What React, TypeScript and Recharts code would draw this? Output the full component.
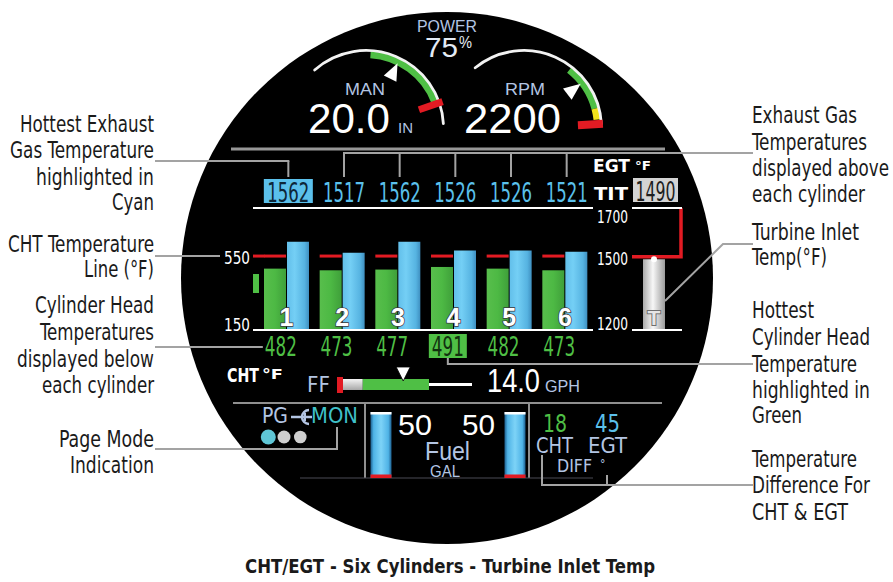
import React from 'react';
import { ComposedChart, Bar, Line, XAxis, YAxis, LabelList } from 'recharts';

// ---------------- data ----------------
const cylinders = ['1', '2', '3', '4', '5', '6'];
const egtValues = [1562, 1517, 1562, 1526, 1526, 1521];
const chtValues = [482, 473, 477, 491, 482, 473];
const chtTicks = [150, 550];
const egtTicks = [1200, 1500, 1700];
const chtDomain = [150, 810];
const egtDomain = [1200, 1700];
const chtRedline = 550;
const titNames = ['TIT'];
const titValues = [1490];
const titRedline = 1500;
const fuelTanks = ['L', 'R'];
const fuelGallons = [50, 50];
const fuelDomain = [0, 50];
const manValue = 20.0;
const rpmValue = 2200;
const powerPct = 75;
const ffValue = 14.0;
const chtDiff = 18;
const egtDiff = 45;

const manRange = { min: 5, max: 33.5, greenFrom: 15, greenTo: 29.5, red: 30 };
const rpmRange = { min: 900, max: 2700, greenFrom: 2000, greenTo: 2525, yellowTo: 2650, red: 2700 };
const ffRange = { max: 30, greenFrom: 4.6, greenTo: 20 };

const leftNotes = [
  ['Hottest Exhaust', 132, 134], ['Gas Temperature', 158, 144], ['highlighted in', 185, 118], ['Cyan', 210, 42],
  ['CHT Temperature', 252, 146], ['Line (°F)', 277, 70],
  ['Cylinder Head', 313, 119], ['Temperatures', 340, 114], ['displayed below', 367, 137], ['each cylinder', 393, 112],
  ['Page Mode', 447, 95], ['Indication', 473, 84],
];
const rightNotes = [
  ['Exhaust Gas', 123, 105], ['Temperatures', 150, 115], ['displayed above', 176, 137], ['each cylinder', 202, 113],
  ['Turbine Inlet', 240, 107], ['Temp(°F)', 265, 75],
  ['Hottest', 318, 62], ['Cylinder Head', 345, 118], ['Temperature', 372, 105], ['highlighted in', 398, 118], ['Green', 423, 50],
  ['Temperature', 467, 105], ['Difference For', 493, 118], ['CHT & EGT', 520, 96],
];
const title = 'CHT/EGT - Six Cylinders - Turbine Inlet Temp';

// ---------------- style ----------------
const W = 893;
const H = 582;
const PLOT_TOP = 208;
const PLOT_BOTTOM = 330;
const NARROW = "'Liberation Sans Narrow', 'DejaVu Sans Condensed', 'Liberation Sans', sans-serif";
const SANS = "'Liberation Sans', 'DejaVu Sans', sans-serif";
const LB = '#b3c5e3';
const CYAN = '#5bc0eb';
const GREEN = '#4fbf45';
const RED = '#e21b23';
const LEAD = '#a3a3a3';

const cylData = cylinders.map((c, i) => ({ cyl: c, cht: chtValues[i], egt: egtValues[i] }));
const titData = titNames.map((n, i) => ({ name: n, tit: titValues[i] }));
const fuelData = fuelTanks.map((t, i) => ({ tank: t, gal: fuelGallons[i] }));
const hotEgt = egtValues.indexOf(Math.max(...egtValues));
const hotCht = chtValues.indexOf(Math.max(...chtValues));

const yE = (v: number) =>
  PLOT_BOTTOM - ((v - egtDomain[0]) / (egtDomain[1] - egtDomain[0])) * (PLOT_BOTTOM - PLOT_TOP);

const Txt = ({ x, y, size, fill, anchor = 'start', w, weight = 400, family = NARROW, children, stroke, sw }: any) => (
  <text
    x={x}
    y={y}
    fontSize={size}
    fill={fill}
    textAnchor={anchor}
    fontFamily={family}
    fontWeight={weight}
    textLength={w}
    lengthAdjust={w ? 'spacingAndGlyphs' : undefined}
    stroke={stroke}
    strokeWidth={sw}
    paintOrder={stroke ? 'stroke' : undefined}
  >
    {children}
  </text>
);

// ---------------- gauge helpers ----------------
const pt = (cx: number, cy: number, r: number, deg: number) => [
  cx + r * Math.cos((deg * Math.PI) / 180),
  cy - r * Math.sin((deg * Math.PI) / 180),
];
const arcD = (cx: number, cy: number, r: number, a0: number, a1: number) => {
  const [x0, y0] = pt(cx, cy, r, a0);
  const [x1, y1] = pt(cx, cy, r, a1);
  const large = Math.abs(a0 - a1) > 180 ? 1 : 0;
  const sweep = a0 > a1 ? 1 : 0;
  return `M${x0} ${y0} A${r} ${r} 0 ${large} ${sweep} ${x1} ${y1}`;
};
const pointer = (cx: number, cy: number, deg: number) => {
  const [tx, ty] = pt(cx, cy, 72, deg);
  const [bx, by] = pt(cx, cy, 55, deg);
  const px = Math.sin((deg * Math.PI) / 180) * 7;
  const py = Math.cos((deg * Math.PI) / 180) * 7;
  return `M${tx} ${ty} L${bx + px} ${by + py} L${bx - px} ${by - py} Z`;
};
const manAngle = (v: number) => 64 - (v - manValue) * 4.5;
const rpmAngle = (v: number) => 38 - (v - rpmValue) * 0.07;
const ffX = (v: number) => 343 + (v / ffRange.max) * 129;

const Gauges = () => {
  const mc = [366, 128];
  const rc = [524, 128];
  return (
    <g>
      {/* MAN */}
      <path d={arcD(mc[0], mc[1], 73.5, manAngle(manRange.greenFrom), manAngle(manRange.greenTo))} stroke={GREEN} strokeWidth={7} fill="none" />
      <path d={arcD(mc[0], mc[1], 77.5, manAngle(manRange.min), manAngle(manRange.max))} stroke="#f2f2f2" strokeWidth={2.8} fill="none" strokeLinecap="round" />
      {(() => {
        const [x0, y0] = pt(mc[0], mc[1], 56, manAngle(manRange.red));
        const [x1, y1] = pt(mc[0], mc[1], 81, manAngle(manRange.red));
        return <line x1={x0} y1={y0} x2={x1} y2={y1} stroke={RED} strokeWidth={7} />;
      })()}
      <path d={pointer(mc[0], mc[1], manAngle(manValue))} fill="#fff" />
      <Txt x={365} y={95} size={17} fill={LB} anchor="middle" w={40} family={SANS}>MAN</Txt>
      <Txt x={308} y={133} size={42} fill="#fff" w={82} family={SANS}>{manValue.toFixed(1)}</Txt>
      <Txt x={398} y={133} size={14} fill={LB} w={15} family={SANS}>IN</Txt>

      {/* RPM */}
      <path d={arcD(rc[0], rc[1], 73.5, rpmAngle(rpmRange.greenFrom), rpmAngle(rpmRange.greenTo))} stroke={GREEN} strokeWidth={7} fill="none" />
      <path d={arcD(rc[0], rc[1], 73.5, rpmAngle(rpmRange.greenTo), rpmAngle(rpmRange.yellowTo))} stroke="#f2e21b" strokeWidth={7} fill="none" />
      <path d={arcD(rc[0], rc[1], 77.5, rpmAngle(rpmRange.min), rpmAngle(rpmRange.max))} stroke="#f2f2f2" strokeWidth={2.8} fill="none" strokeLinecap="round" />
      {(() => {
        const [x0, y0] = pt(rc[0], rc[1], 54, rpmAngle(rpmRange.red));
        const [x1, y1] = pt(rc[0], rc[1], 79, rpmAngle(rpmRange.red));
        return <line x1={x0} y1={y0} x2={x1} y2={y1} stroke={RED} strokeWidth={8} />;
      })()}
      <path d={pointer(rc[0], rc[1], rpmAngle(rpmValue))} fill="#fff" />
      <Txt x={525} y={95} size={17} fill={LB} anchor="middle" w={40} family={SANS}>RPM</Txt>
      <Txt x={464} y={133} size={42} fill="#fff" w={97} family={SANS}>{rpmValue}</Txt>

      {/* POWER */}
      <Txt x={447} y={32} size={16} fill={LB} anchor="middle" w={60} family={SANS}>POWER</Txt>
      <Txt x={425} y={57} size={28} fill="#e4ebf5" w={33} family={SANS}>{powerPct}</Txt>
      <Txt x={459} y={48} size={16} fill="#e4ebf5" w={13} family={SANS}>%</Txt>
    </g>
  );
};

const Background = () => (
  <g>
    <circle cx={447} cy={278} r={266} fill="#000" />
    <line x1={231} x2={665} y1={149} y2={149} stroke="#979797" strokeWidth={3} />
    <Gauges />

    {/* EGT / TIT header */}
    <Txt x={593} y={172} size={17} fill="#fff" weight={700} w={37}>EGT</Txt>
    <Txt x={635} y={170} size={13} fill="#fff" weight={700} w={16}>°F</Txt>
    <Txt x={594} y={200} size={17} fill="#fff" weight={700} w={34}>TIT</Txt>
    <rect x={633} y={178} width={45} height={24} fill="#d3d3d3" />
    <Txt x={655.5} y={201} size={27} fill="#1e1e1e" anchor="middle" w={40}>{titValues[0]}</Txt>

    {/* TIT red limit bracket */}
    <polyline
      points={`632,${yE(titRedline)} 681,${yE(titRedline)} 681,${yE(egtDomain[1])}`}
      fill="none"
      stroke={RED}
      strokeWidth={3.5}
    />

    {/* CHT trend indicator */}
    <rect x={253} y={274} width={6} height={19} fill={GREEN} />

    {/* CHT °F */}
    <Txt x={227} y={382} size={19} fill="#fff" weight={700} w={32}>CHT</Txt>
    <Txt x={262} y={379} size={14} fill="#fff" weight={700} w={21}>°F</Txt>

    {/* Fuel flow */}
    <Txt x={307} y={392} size={21} fill={LB} w={23}>FF</Txt>
    <rect x={337} y={377} width={6} height={16} fill={RED} />
    <rect x={343} y={379} width={ffX(ffRange.greenFrom) - 343} height={11} fill="url(#gFF)" />
    <rect x={ffX(ffRange.greenFrom)} y={379} width={ffX(ffRange.greenTo) - ffX(ffRange.greenFrom)} height={11} fill={GREEN} />
    <rect x={ffX(ffRange.greenTo)} y={383} width={ffX(ffRange.max) - ffX(ffRange.greenTo)} height={3} fill="#fff" />
    <path
      d={`M${ffX(ffValue) - 7} 367 L${ffX(ffValue) + 7} 367 L${ffX(ffValue)} 381 Z`}
      fill="#fff"
      stroke="#000"
      strokeWidth={0.8}
    />
    <Txt x={487} y={392} size={33} fill="#fff" w={53} family={SANS}>{ffValue.toFixed(1)}</Txt>
    <Txt x={545} y={392} size={17} fill={LB} w={35} family={SANS}>GPH</Txt>

    {/* lower section frame */}
    <line x1={233} x2={662} y1={403} y2={403} stroke="#8f8f8f" strokeWidth={2} />
    <line x1={365} x2={365} y1={403} y2={478} stroke="#8f8f8f" strokeWidth={2} />
    <line x1={529} x2={529} y1={403} y2={478} stroke="#8f8f8f" strokeWidth={2} />
    <line x1={300} x2={593} y1={478} y2={478} stroke="#4a4a55" strokeWidth={1} />

    {/* page mode */}
    <Txt x={262} y={423} size={21} fill={LB} w={26}>PG</Txt>
    <path d="M309 410 A7 7 0 0 0 309 424" fill="none" stroke={LB} strokeWidth={2.5} />
    <line x1={291} x2={312} y1={417} y2={417} stroke={LB} strokeWidth={2.5} />
    <line x1={305} x2={305} y1={413} y2={421} stroke={LB} strokeWidth={2} />
    <Txt x={311} y={423} size={21} fill="#3fc1c9" w={47}>MON</Txt>
    <circle cx={268.3} cy={437} r={7.5} fill="#5fc6d6" />
    <circle cx={284} cy={437} r={6.5} fill="#cfcfcf" />
    <circle cx={300.3} cy={437} r={6.3} fill="#cfcfcf" />

    {/* fuel */}
    <Txt x={398} y={435} size={30} fill="#fff" w={34} family={SANS}>{fuelGallons[0]}</Txt>
    <Txt x={462} y={435} size={30} fill="#fff" w={33} family={SANS}>{fuelGallons[1]}</Txt>
    <Txt x={447.5} y={460} size={25} fill={LB} anchor="middle" w={45} family={SANS}>Fuel</Txt>
    <Txt x={445} y={477} size={16} fill={LB} anchor="middle" w={30} family={SANS}>GAL</Txt>

    {/* diff */}
    <Txt x={543} y={432} size={24} fill={GREEN} w={24}>{chtDiff}</Txt>
    <Txt x={595} y={432} size={24} fill={CYAN} w={25}>{egtDiff}</Txt>
    <Txt x={536} y={453} size={21} fill={LB} w={37}>CHT</Txt>
    <Txt x={588} y={453} size={21} fill={LB} w={39}>EGT</Txt>
    <Txt x={557} y={472} size={17} fill={LB} w={35}>DIFF</Txt>
    <Txt x={600} y={468} size={12} fill={LB}>°</Txt>

    {/* leader lines */}
    <polyline points="155,449 337,449 337,427" fill="none" stroke={LEAD} strokeWidth={2} />
    <polyline points="753,244 723,244 665,301" fill="none" stroke={LEAD} strokeWidth={2} />
    <polyline points="542,455 542,485 753,485" fill="none" stroke={LEAD} strokeWidth={2} />
    <line x1={607} x2={607} y1={475} y2={485} stroke={LEAD} strokeWidth={2} />

    {/* annotations */}
    {leftNotes.map(([t, y, w]) => (
      <Txt key={`l${t}${y}`} x={154} y={y} size={23} fill="#1a1a1a" anchor="end" w={w}>{t}</Txt>
    ))}
    {rightNotes.map(([t, y, w]) => (
      <Txt key={`r${t}${y}`} x={752} y={y} size={23} fill="#1a1a1a" w={w}>{t}</Txt>
    ))}
    <Txt x={450} y={573} size={20} fill="#1a1a1a" anchor="middle" weight={700} w={410}>{title}</Txt>
  </g>
);

const Defs = () => (
  <defs>
    <linearGradient id="gGreen" x1="0" y1="0" x2="1" y2="0">
      <stop offset="0" stopColor="#58be4c" />
      <stop offset="0.5" stopColor="#4db944" />
      <stop offset="1" stopColor="#3f9f3a" />
    </linearGradient>
    <linearGradient id="gBlue" x1="0" y1="0" x2="1" y2="0">
      <stop offset="0" stopColor="#62bfea" />
      <stop offset="0.35" stopColor="#74cff5" />
      <stop offset="0.8" stopColor="#56b3e1" />
      <stop offset="1" stopColor="#3f8fc0" />
    </linearGradient>
    <linearGradient id="gTit" x1="0" y1="0" x2="1" y2="0">
      <stop offset="0" stopColor="#a9a9a9" />
      <stop offset="0.45" stopColor="#f7f7f7" />
      <stop offset="1" stopColor="#9b9b9b" />
    </linearGradient>
    <linearGradient id="gFuel" x1="0" y1="0" x2="1" y2="0">
      <stop offset="0" stopColor="#1d5f8f" />
      <stop offset="0.15" stopColor="#4fb3e6" />
      <stop offset="0.5" stopColor="#7dd3f7" />
      <stop offset="0.85" stopColor="#4fb3e6" />
      <stop offset="1" stopColor="#1d5f8f" />
    </linearGradient>
    <linearGradient id="gFF" x1="0" y1="0" x2="0" y2="1">
      <stop offset="0" stopColor="#f4f4f4" />
      <stop offset="1" stopColor="#a8a8a8" />
    </linearGradient>
  </defs>
);

// ---------------- chart parts ----------------
const EgtTopTick = (props: any) => {
  const { x, y, index } = props;
  const cx = Number(x) + 1.5;
  const yy = Number(y);
  const hot = index === hotEgt;
  return (
    <g>
      <line x1={cx} x2={cx} y1={index === 0 ? yy - 47 : yy - 55} y2={yy - 31} stroke={LEAD} strokeWidth={2} />
      {index === 0 && <line x1={155} x2={cx + 1} y1={yy - 47} y2={yy - 47} stroke={LEAD} strokeWidth={2} />}
      {index === 1 && <line x1={cx - 1} x2={753} y1={yy - 55} y2={yy - 55} stroke={LEAD} strokeWidth={2} />}
      {hot && <rect x={cx - 24.5} y={yy - 29} width={49} height={24} fill={CYAN} />}
      <Txt x={cx} y={yy - 6} size={27} fill={hot ? '#0d2638' : CYAN} anchor="middle" w={42}>
        {egtValues[index]}
      </Txt>
    </g>
  );
};

const ChtBottomTick = (props: any) => {
  const { x, y, index } = props;
  const cx = Number(x) - 6;
  const yy = Number(y);
  const hot = index === hotCht;
  return (
    <g>
      {index === 0 && <line x1={155} x2={cx - 18} y1={yy + 17} y2={yy + 17} stroke={LEAD} strokeWidth={2} />}
      {hot && (
        <g>
          <rect x={cx - 19} y={yy + 4} width={38} height={24} fill={GREEN} />
          <polyline points={`${cx},${yy + 28} ${cx},${yy + 34} 753,${yy + 34}`} fill="none" stroke={LEAD} strokeWidth={2} />
        </g>
      )}
      <Txt x={cx} y={yy + 26} size={27} fill={hot ? '#11300e' : GREEN} anchor="middle" w={32}>
        {chtValues[index]}
      </Txt>
    </g>
  );
};

const ChtAxisTick = (props: any) => {
  const { x, y, payload } = props;
  const v = payload.value;
  const xx = Number(x);
  const yy = Number(y);
  const base = v === chtDomain[0] ? yy + 1 : yy + 8;
  return (
    <g>
      {v === chtRedline && (
        <g>
          <line x1={155} x2={xx - 33} y1={yy} y2={yy} stroke={LEAD} strokeWidth={2} />
          <line x1={xx} x2={xx + 11.5} y1={yy} y2={yy} stroke={RED} strokeWidth={3} />
        </g>
      )}
      <Txt x={xx - 3} y={base} size={18} fill="#fff" anchor="end" w={26}>{v}</Txt>
    </g>
  );
};

const EgtAxisTick = (props: any) => {
  const { x, y, payload } = props;
  const v = payload.value;
  const yy = Number(y);
  const base = v === egtDomain[1] ? yy + 15 : v === egtDomain[0] ? yy : yy + 8;
  return <Txt x={Number(x) + 4} y={base} size={18} fill="#fff" w={31}>{v}</Txt>;
};

const ChtBar = (props: any) => {
  const { x, y, width, height, payload } = props;
  const bottom = y + height;
  const ppu = height / (payload.cht - chtDomain[0]);
  const yr = bottom - (chtRedline - chtDomain[0]) * ppu;
  return (
    <g>
      <rect x={x} y={y} width={width} height={height} fill="url(#gGreen)" />
      <line x1={x} x2={x + width} y1={yr} y2={yr} stroke={RED} strokeWidth={3} />
    </g>
  );
};

const CylLabel = (props: any) => {
  const { x, y, width, height, index } = props;
  return (
    <Txt
      x={Number(x) + Number(width) + 0.5}
      y={Number(y) + Number(height) - 4}
      size={25}
      fill="#fff"
      anchor="middle"
      weight={700}
      family={SANS}
      stroke="#3a3a3a"
      sw={1.5}
    >
      {cylinders[index]}
    </Txt>
  );
};

const TLabel = (props: any) => {
  const { x, y, width, height } = props;
  return (
    <Txt
      x={Number(x) + Number(width) / 2}
      y={Number(y) + Number(height) - 5}
      size={21}
      fill="#e6e6e6"
      anchor="middle"
      weight={700}
      family={SANS}
      stroke="#6e6e6e"
      sw={2}
    >
      T
    </Txt>
  );
};

const FuelBar = (props: any) => {
  const { x, y, width, height } = props;
  return (
    <g>
      <rect x={x} y={y} width={width} height={height} fill="url(#gFuel)" />
      <rect x={x} y={y} width={width} height={2.5} fill="#fff" />
      <rect x={x} y={y + height - 3.5} width={width} height={3.5} fill={RED} />
    </g>
  );
};

const axisWhite = { stroke: '#fff', strokeWidth: 2 };

const MainChart = () => (
  <ComposedChart
    width={W}
    height={H}
    data={cylData}
    margin={{ top: PLOT_TOP - 30, right: 0, bottom: H - PLOT_BOTTOM - 30, left: 0 }}
    barSize={22}
    barGap={1}
  >
    <XAxis
      xAxisId="top"
      orientation="top"
      dataKey="cyl"
      height={30}
      axisLine={axisWhite}
      tickLine={false}
      tickSize={0}
      tickMargin={0}
      interval={0}
      padding={{ left: 6, right: 0 }}
      tick={EgtTopTick}
    />
    <XAxis
      xAxisId="bottom"
      orientation="bottom"
      dataKey="cyl"
      height={30}
      axisLine={axisWhite}
      tickLine={false}
      tickSize={0}
      tickMargin={0}
      interval={0}
      padding={{ left: 6, right: 0 }}
      tick={ChtBottomTick}
    />
    <YAxis
      yAxisId="cht"
      orientation="left"
      width={253}
      domain={chtDomain}
      ticks={chtTicks}
      axisLine={false}
      tickLine={false}
      tickSize={0}
      tickMargin={0}
      tick={ChtAxisTick}
    />
    <YAxis
      yAxisId="egt"
      orientation="right"
      width={W - 593}
      domain={egtDomain}
      ticks={egtTicks}
      axisLine={false}
      tickLine={false}
      tickSize={0}
      tickMargin={0}
      tick={EgtAxisTick}
    />
    <Line xAxisId="top" yAxisId="egt" dataKey="egt" stroke="none" dot={false} activeDot={false} isAnimationActive={false} />
    <Bar xAxisId="bottom" yAxisId="cht" dataKey="cht" fill="url(#gGreen)" shape={ChtBar} isAnimationActive={false}>
      <LabelList dataKey="cht" content={CylLabel} />
    </Bar>
    <Bar xAxisId="bottom" yAxisId="egt" dataKey="egt" fill="url(#gBlue)" isAnimationActive={false} />
  </ComposedChart>
);

const TitChart = () => (
  <ComposedChart
    width={W}
    height={H}
    data={titData}
    margin={{ top: PLOT_TOP - 30, right: W - 682, bottom: H - PLOT_BOTTOM - 30, left: 632 }}
    barSize={22}
  >
    <XAxis xAxisId="top" orientation="top" dataKey="name" height={30} tick={false} tickLine={false} axisLine={axisWhite} padding={{ left: 0, right: 6 }} />
    <XAxis xAxisId="bot" orientation="bottom" dataKey="name" height={30} tick={false} tickLine={false} axisLine={axisWhite} padding={{ left: 0, right: 6 }} />
    <YAxis yAxisId="t" hide width={0} domain={egtDomain} />
    <Line xAxisId="top" yAxisId="t" dataKey="tit" stroke="none" dot={false} activeDot={false} isAnimationActive={false} />
    <Bar xAxisId="bot" yAxisId="t" dataKey="tit" fill="url(#gTit)" isAnimationActive={false}>
      <LabelList dataKey="tit" content={TLabel} />
    </Bar>
  </ComposedChart>
);

const FuelChart = () => (
  <ComposedChart
    width={W}
    height={H}
    data={fuelData}
    margin={{ top: 412, right: W - 581.5, bottom: H - 478, left: 313.5 }}
    barSize={21}
  >
    <XAxis dataKey="tank" hide height={0} />
    <YAxis hide width={0} domain={fuelDomain} />
    <Bar dataKey="gal" shape={FuelBar} isAnimationActive={false} />
  </ComposedChart>
);

export default function App() {
  return (
    <div style={{ position: 'absolute', left: 0, top: 0, width: W, height: H, background: '#fff', overflow: 'hidden' }}>
      <svg width={W} height={H} style={{ position: 'absolute', left: 0, top: 0 }}>
        <Defs />
        <Background />
      </svg>
      <div style={{ position: 'absolute', left: 0, top: 0 }}>
        <MainChart />
      </div>
      <div style={{ position: 'absolute', left: 0, top: 0 }}>
        <TitChart />
      </div>
      <div style={{ position: 'absolute', left: 0, top: 0 }}>
        <FuelChart />
      </div>
    </div>
  );
}
